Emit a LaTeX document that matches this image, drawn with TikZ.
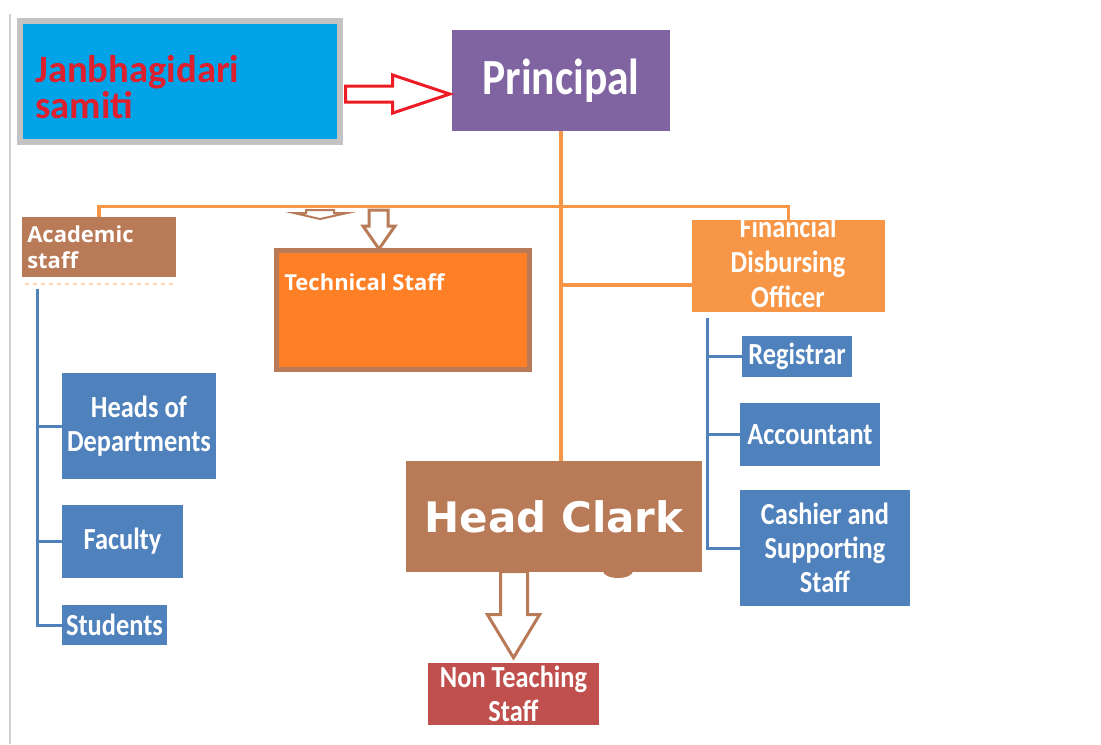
\documentclass[tikz,border=0pt]{standalone}
\usepackage{fontspec}
\setmainfont{Carlito}
\newfontfamily\condfont{Carlito}[FakeStretch=0.86]
\newfontfamily\clarkfont{DejaVu Sans}
\newfontfamily\opensansfont{Open Sans}
\usetikzlibrary{calc}

\definecolor{samitiblue}{HTML}{00A2E8}
\definecolor{samitigray}{HTML}{C3C3C3}
\definecolor{samitired}{HTML}{DD1F2E}
\definecolor{arrowred}{HTML}{ED1C24}
\definecolor{principalpurple}{HTML}{8064A2}
\definecolor{linkorange}{HTML}{F79646}
\definecolor{clarkbrown}{HTML}{B97A57}
\definecolor{techorange}{HTML}{FF7F27}
\definecolor{deptblue}{HTML}{4F81BD}
\definecolor{ntsred}{HTML}{C0504D}

\begin{document}
\begin{tikzpicture}[x=0.75pt,y=-0.75pt,
	box/.style={fill=#1,inner sep=0pt,text=white,align=center},
	pxsize/.style 2 args={minimum width={#1*0.75pt},minimum height={#2*0.75pt}},
	bluebox/.style={box=deptblue,font=\condfont\bfseries\fontsize{23pt}{25.5pt}\selectfont},
	caption/.style={inner sep=0pt,text=white,align=left},
	orangeline/.style={draw=linkorange,line width=2.6pt},
	blueline/.style={draw=deptblue,line width=2.25pt},
	hollowarrow/.style={draw=#1,line width=2.25pt,fill=white,line join=miter},
	]
	
	\useasboundingbox (0,0) rectangle (1101,744);
	
	% page edge
	\draw[black!18,line width=1.5pt] (10,14) -- (10,744);
	
	% The top row
	\node[box=samitiblue,draw=samitigray,line width=4.5pt,pxsize={320}{120.5}] (jan) at (179.5,81.25) {};
	\node[caption,anchor=west,text=samitired,font=\bfseries\fontsize{29pt}{27.5pt}\selectfont]
	      (jantext) at (35,87) {Janbhagidari\\samiti};
	\node[box=principalpurple,pxsize={218}{101},font=\condfont\bfseries\fontsize{38pt}{40pt}\selectfont]
	      (prin) at (561,80.5) {Principal};
	
	% The second row
	\node[box=clarkbrown,pxsize={154}{60}] (acad) at (99,247) {};
	\node[caption,anchor=west,font=\opensansfont\bfseries\fontsize{16.5pt}{19.5pt}\selectfont]
	      (acadtext) at (27,247) {Academic\\staff};
	\node[box=techorange,draw=clarkbrown,line width=3.75pt,pxsize={253}{119}] (tech) at (403,310) {};
	\node[caption,anchor=base west,font=\opensansfont\bfseries\fontsize{16.5pt}{19.5pt}\selectfont]
	      (techtext) at (284,290) {Technical Staff};
	\node[box=linkorange,pxsize={193}{92}] (fdo) at (788.5,266) {};
	\node[caption,align=center,font=\condfont\bfseries\fontsize{23pt}{26.25pt}\selectfont]
	      (fdotext) at (788,262) {Financial\\Disbursing\\Officer};
	
	% Academic side
	\node[bluebox,pxsize={154}{106}] (hod) at (139,426) {Heads of\\Departments};
	\node[bluebox,pxsize={121}{73}] (fac) at (122.5,541.5) {Faculty};
	\node[bluebox,pxsize={105}{40}] (stud) at (114.5,625) {Students};
	
	% Finance side
	\node[bluebox,pxsize={110}{41}] (reg) at (797,356.5) {Registrar};
	\node[bluebox,pxsize={140}{63}] (acc) at (810,434.5) {Accountant};
	\node[bluebox,pxsize={170}{116}] (cas) at (825,548) {Cashier and\\Supporting\\Staff};
	
	% Office
	\node[box=clarkbrown,pxsize={296}{111},font=\clarkfont\bfseries\fontsize{31.5pt}{33pt}\selectfont]
	      (hc) at (554,516.5) {Head Clark};
	\fill[clarkbrown] (618,571) ellipse [x radius=15,y radius=7];
	\node[box=ntsred,pxsize={171}{62},font=\condfont\bfseries\fontsize{23pt}{25.5pt}\selectfont]
	      (nts) at (513.5,694) {Non Teaching\\Staff};
	
	% The orange links
	\draw[orangeline] (prin.south) -- (prin.south |- hc.north);
	\draw[orangeline] (acad.north) -- ++(0,-10) -| (fdo.north);
	\coordinate (fdohook) at ($(fdo.west)+(0,19)$);
	\draw[orangeline] (prin.south |- fdohook) -- (fdohook);
	\draw[orangeline,line width=1.5pt,dashed,opacity=.4]
	      ($(acad.south west)+(3,7)$) -- ($(acad.south east)+(0,7)$);
	
	% The blue links
	\draw[blueline] ($(acad.south west)+(16,12)$) |- (stud.west);
	\draw[blueline] (hod.west) -- ++(-24,0);
	\draw[blueline] (fac.west) -- ++(-24,0);
	\draw[blueline] ($(fdo.south west)+(16,6)$) |- (cas.west);
	\draw[blueline] (reg.west) -- ++(-34,0);
	\draw[blueline] (acc.west) -- ++(-32,0);
	
	% The block arrows
	\coordinate (jantip) at ($(prin.west)+(-2,13.5)$);
	\draw[hollowarrow=arrowred] (jantip) -- ++(-57,-19) -- ++(0,11) -- ++(-47,0)
	      -- ++(0,16) -- ++(47,0) -- ++(0,11) -- cycle;
	\coordinate (techtip) at ($(tech.north west)+(105,1)$);
	\draw[hollowarrow=clarkbrown] (techtip) -- ++(-16,-23) -- ++(6,0) -- ++(0,-16)
	      -- ++(19,0) -- ++(0,16) -- ++(7,0) -- cycle;
	\draw[hollowarrow=clarkbrown,line width=1.5pt] (320,219) -- (294,213) -- (306,213)
	      -- (306,210) -- (334,210) -- (334,213) -- (347,213) -- cycle;
	\coordinate (ntstip) at ($(nts.north)+(0,-5)$);
	\draw[hollowarrow=clarkbrown] (ntstip) -- ++(-26,-43) -- ++(13,0) -- ++(0,-43)
	      -- ++(27,0) -- ++(0,43) -- ++(12,0) -- cycle;
	
\end{tikzpicture}
\end{document}
